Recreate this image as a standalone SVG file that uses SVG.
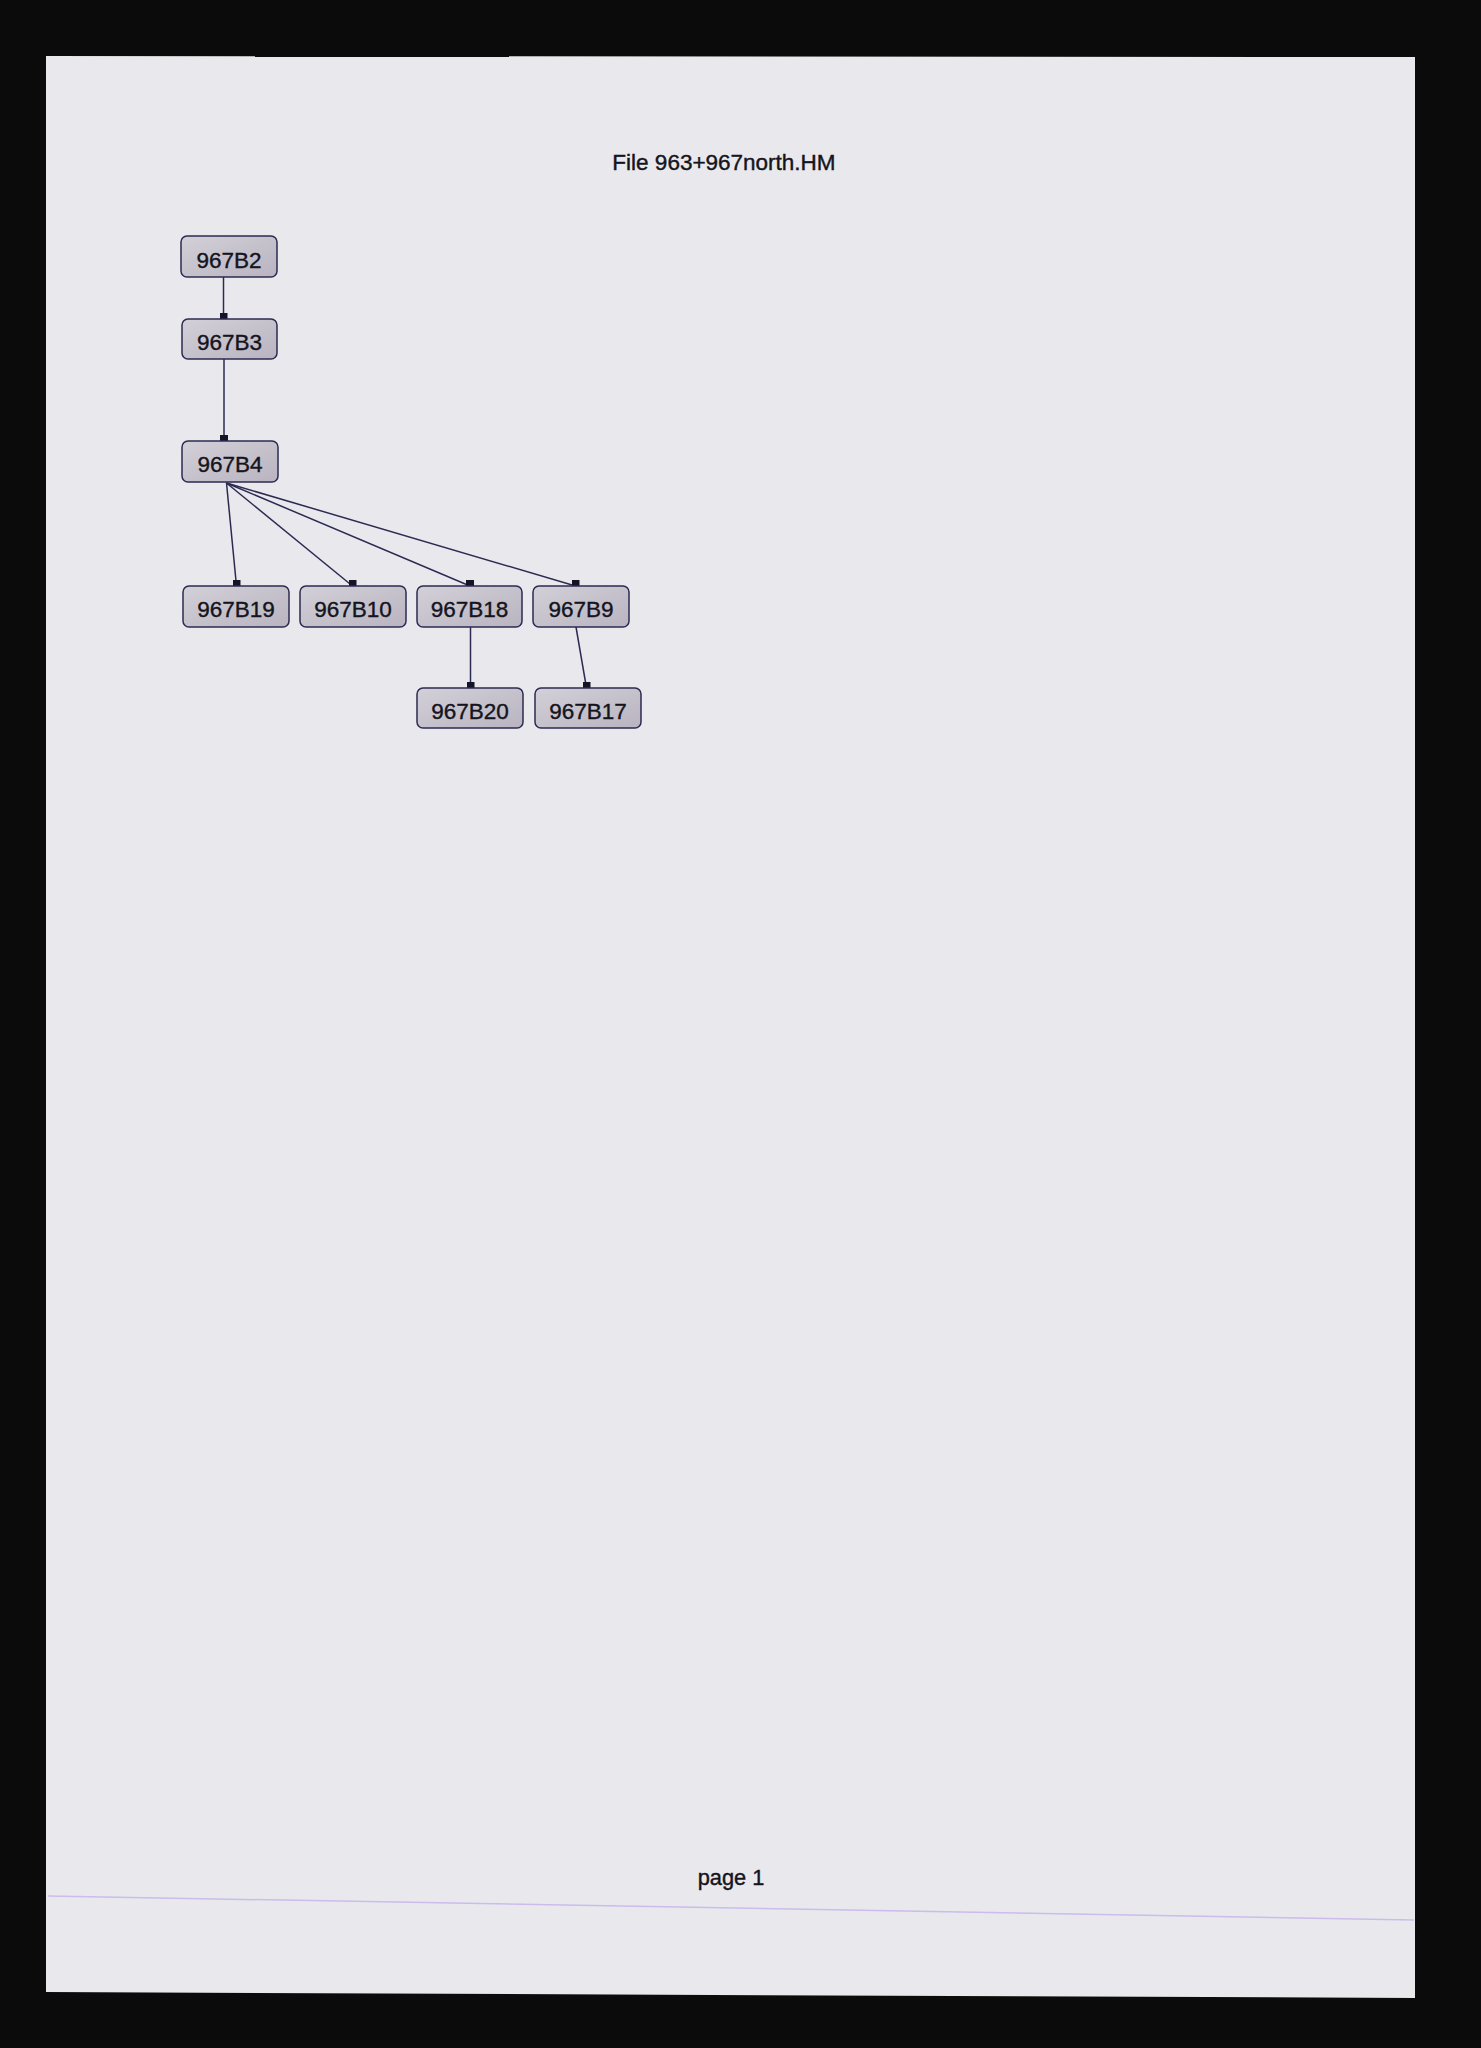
<svg xmlns="http://www.w3.org/2000/svg" width="1481" height="2048" viewBox="0 0 1481 2048">
<style>
.node rect{fill:url(#nf);stroke:#2c2a52;stroke-width:1.5}
.node text{font-family:"Liberation Sans",Arial,sans-serif;font-size:22.5px;fill:#141420;stroke:#141420;stroke-width:0.4;text-anchor:middle}
.edges line{stroke:#2c2a52;stroke-width:1.5}
.lbl{font-family:"Liberation Sans",Arial,sans-serif;fill:#141420;stroke:#141420;stroke-width:0.4;text-anchor:middle}
</style>
<defs>
<linearGradient id="nf" x1="0" y1="0" x2="1" y2="1">
<stop offset="0" stop-color="#d3d0d8"/>
<stop offset="1" stop-color="#b9b4c0"/>
</linearGradient>
<marker id="sq" viewBox="0 0 8 6" refX="4" refY="6" markerWidth="8" markerHeight="6" markerUnits="userSpaceOnUse" orient="0">
<rect x="0" y="0" width="8" height="6" fill="#141428"/>
</marker>
</defs>
<rect x="0" y="0" width="1481" height="2048" fill="#0b0b0b"/>
<polygon points="46,56 1415,57 1415,1998 46,1992" fill="#e9e9ed"/>
<line x1="48" y1="1896" x2="1414" y2="1920" stroke="#cbbcec" stroke-width="1.5"/>
<text class="lbl" x="724" y="170" font-size="22.5">File 963+967north.HM</text>
<text class="lbl" x="731" y="1885" font-size="21.8">page 1</text>
<g class="edges">
<line x1="223.5" y1="277" x2="223.5" y2="319" marker-end="url(#sq)"/>
<line x1="224" y1="359" x2="224" y2="441" marker-end="url(#sq)"/>
<line x1="226.5" y1="483" x2="236.5" y2="586" marker-end="url(#sq)"/>
<line x1="226.5" y1="483" x2="352.5" y2="586" marker-end="url(#sq)"/>
<line x1="226.5" y1="483" x2="470" y2="586" marker-end="url(#sq)"/>
<line x1="226.5" y1="483" x2="575.5" y2="586" marker-end="url(#sq)"/>
<line x1="470.5" y1="627" x2="470.5" y2="688" marker-end="url(#sq)"/>
<line x1="576" y1="627" x2="586.5" y2="688" marker-end="url(#sq)"/>
</g>
<g id="n967B2" class="node"><rect x="181" y="236" width="96" height="41" rx="6"/><text x="229" y="268">967B2</text></g>
<g id="n967B3" class="node"><rect x="182" y="319" width="95" height="40" rx="6"/><text x="229.5" y="350">967B3</text></g>
<g id="n967B4" class="node"><rect x="182" y="441" width="96" height="41" rx="6"/><text x="230" y="472">967B4</text></g>
<g id="n967B19" class="node"><rect x="183" y="586" width="106" height="41" rx="6"/><text x="236" y="617">967B19</text></g>
<g id="n967B10" class="node"><rect x="300" y="586" width="106" height="41" rx="6"/><text x="353" y="617">967B10</text></g>
<g id="n967B18" class="node"><rect x="417" y="586" width="105" height="41" rx="6"/><text x="469.5" y="617">967B18</text></g>
<g id="n967B9" class="node"><rect x="533" y="586" width="96" height="41" rx="6"/><text x="581" y="617">967B9</text></g>
<g id="n967B20" class="node"><rect x="417" y="688" width="106" height="40" rx="6"/><text x="470" y="719">967B20</text></g>
<g id="n967B17" class="node"><rect x="535" y="688" width="106" height="40" rx="6"/><text x="588" y="719">967B17</text></g>
</svg>
